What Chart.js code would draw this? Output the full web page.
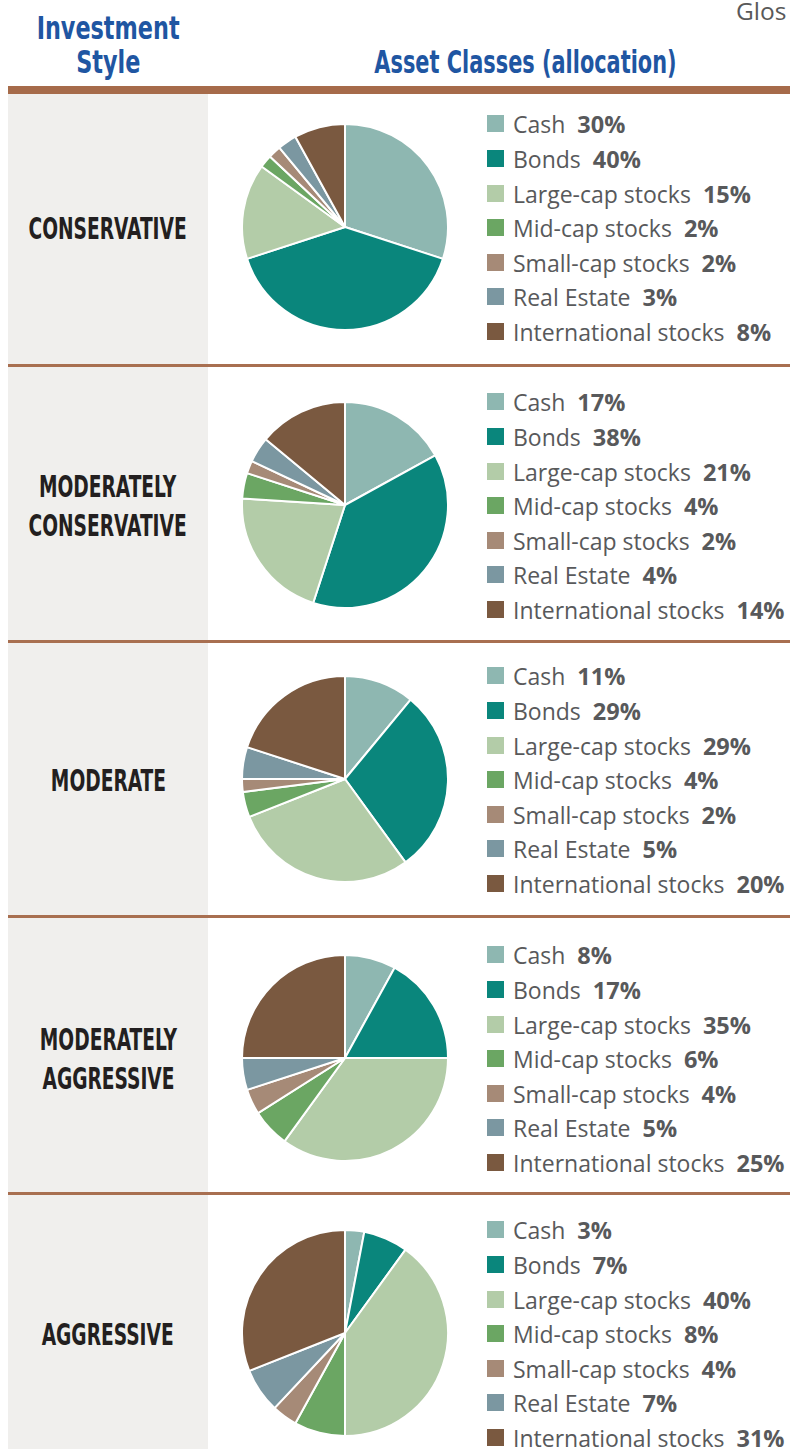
<!DOCTYPE html>
<html>
<head>
<meta charset="utf-8">
<script src="https://cdn.jsdelivr.net/npm/chart.js"></script>
<style>
  body { margin: 0; background: #fff; }
  #page { position: relative; width: 790px; height: 1449px; overflow: hidden; background: #fff; }
  .cond { font-family: "Liberation Sans Narrow", "DejaVu Sans Condensed", "Liberation Sans", sans-serif; font-weight: bold; }
  .head { position: absolute; color: #1f56a2; font-size: 32px; line-height: 30px; text-align: center; white-space: nowrap; }
  .head span { display: inline-block; }
  .glos { position: absolute; left: 736px; top: -6px; font-family: "Open Sans", sans-serif; font-size: 24.5px; color: #595959; white-space: nowrap; }
  .panel { position: absolute; left: 8px; top: 94px; width: 200px; height: 1355px; background: #f0efed; }
  .thick { position: absolute; left: 8px; top: 86px; width: 782px; height: 8px; background: #a66b4a; }
  .thin { position: absolute; left: 8px; width: 782px; height: 3px; background: #a86f50; }
  .style { position: absolute; left: 8px; width: 200px; height: 120px; display: flex; align-items: center; justify-content: center;
           color: #231f20; font-size: 30px; line-height: 39px; text-align: center; }
  .style span { display: inline-block; transform: scaleX(0.69); white-space: nowrap; }
  .pie { position: absolute; }
  .legend { position: absolute; left: 487px; font-family: "Open Sans", sans-serif; font-size: 23px; color: #58595b; }
  .item { height: 34.6px; line-height: 34.6px; white-space: nowrap; position: relative; padding-left: 26px; }
  .item i { position: absolute; left: 0; top: 8px; width: 17px; height: 17px; }
  .item b { margin-left: 12px; font-size: 23.5px; }
</style>
</head>
<body>
<div id="page">
  <div class="glos">Glos</div>
  <div class="head cond" style="left:8px; top:13px; width:200px;"><span style="transform:scaleX(0.776);">Investment</span></div>
  <div class="head cond" style="left:8px; top:47px; width:200px;"><span style="transform:scaleX(0.776);">Style</span></div>
  <div class="head cond" style="left:317px; top:47px; width:402px;"><span style="transform:scaleX(0.725);">Asset Classes (allocation)</span></div>
  <div class="panel"></div>
  <div class="thick"></div>
</div>
<script>
const categories = ['Cash', 'Bonds', 'Large-cap stocks', 'Mid-cap stocks', 'Small-cap stocks', 'Real Estate', 'International stocks'];
const colors = ['#8eb7b1', '#0a867c', '#b3cca8', '#6ba663', '#a68a77', '#7b97a1', '#7a5940'];
const styleNames = ['CONSERVATIVE', 'MODERATELY CONSERVATIVE', 'MODERATE', 'MODERATELY AGGRESSIVE', 'AGGRESSIVE'];

const conservative = [30, 40, 15, 2, 2, 3, 8];
const moderatelyConservative = [17, 38, 21, 4, 2, 4, 14];
const moderate = [11, 29, 29, 4, 2, 5, 20];
const moderatelyAggressive = [8, 17, 35, 6, 4, 5, 25];
const aggressive = [3, 7, 40, 8, 4, 7, 31];

const allocations = [conservative, moderatelyConservative, moderate, moderatelyAggressive, aggressive];

// layout
const rowCenters = [227, 505, 779, 1058, 1333];
const lineTops = [364, 640, 915, 1192];
const pieSize = 208;

const page = document.getElementById('page');

lineTops.forEach(y => {
    const l = document.createElement('div');
    l.className = 'thin';
    l.style.top = y + 'px';
    page.appendChild(l);
});

allocations.forEach((values, r) => {
    const cy = rowCenters[r];

    // style label
    const lab = document.createElement('div');
    lab.className = 'style cond';
    lab.style.top = (cy - 59) + 'px';
    lab.innerHTML = '<span>' + styleNames[r].split(' ').join('<br>') + '</span>';
    page.appendChild(lab);

    // pie
    const canvas = document.createElement('canvas');
    canvas.className = 'pie';
    canvas.width = pieSize;
    canvas.height = pieSize;
    canvas.style.left = (345 - pieSize / 2) + 'px';
    canvas.style.top = (cy - pieSize / 2) + 'px';
    page.appendChild(canvas);

    new Chart(canvas.getContext('2d'), {
        type: 'pie',
        data: {
            labels: categories,
            datasets: [{
                data: values,
                backgroundColor: colors,
                borderColor: '#ffffff',
                borderWidth: 2
            }]
        },
        options: {
            responsive: false,
            animation: false,
            layout: { padding: 0 },
            plugins: {
                legend: { display: false },
                tooltip: { enabled: false }
            }
        }
    });

    // legend
    const leg = document.createElement('div');
    leg.className = 'legend';
    leg.style.top = (cy - 3.5 * 34.6 + 1.5) + 'px';
    categories.forEach((c, i) => {
        const it = document.createElement('div');
        it.className = 'item';
        it.innerHTML = '<i style="background:' + colors[i] + '"></i>' + c + '<b>' + values[i] + '%</b>';
        leg.appendChild(it);
    });
    page.appendChild(leg);
});
</script>
</body>
</html>
